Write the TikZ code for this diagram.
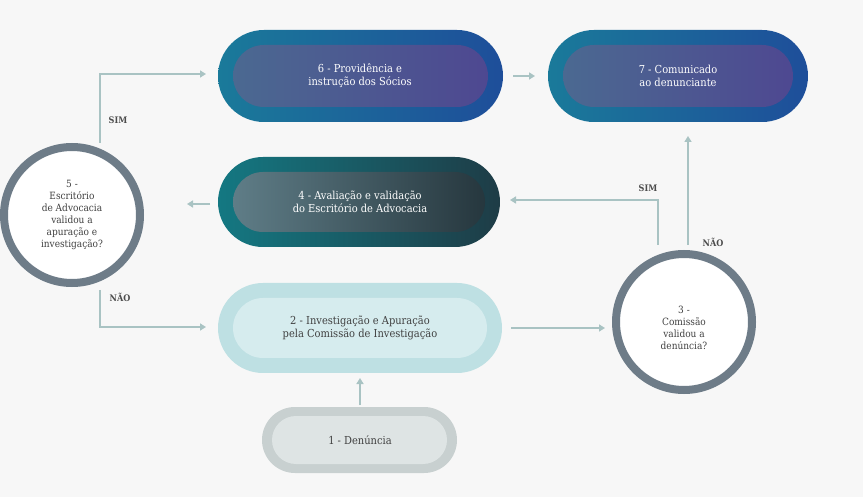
\documentclass[tikz,border=0pt]{standalone}
\usepackage{fontspec}
\setmainfont{DejaVu Serif Condensed}
\usetikzlibrary{arrows.meta}
\definecolor{arr}{HTML}{A9C3C3}
\definecolor{ring}{HTML}{6E7C88}
\definecolor{obL}{HTML}{1A7A9A}
\definecolor{obR}{HTML}{1E4E9A}
\definecolor{ibL}{HTML}{4B6991}
\definecolor{ibR}{HTML}{4E4891}
\definecolor{otL}{HTML}{147882}
\definecolor{otR}{HTML}{1E3C46}
\definecolor{itL}{HTML}{5F7D87}
\definecolor{itR}{HTML}{26373E}
\definecolor{cyO}{HTML}{BEE0E3}
\definecolor{cyI}{HTML}{D6ECEE}
\definecolor{grO}{HTML}{C8D0D0}
\definecolor{grI}{HTML}{DEE4E4}
\begin{document}
\begin{tikzpicture}[x=1pt,y=-1pt,
  lbl/.style={align=center,font=\fontsize{11}{13}\selectfont,text=white},
  dlbl/.style={align=center,font=\fontsize{11}{13}\selectfont,text=black!75},
  con/.style={draw=arr,line width=1.6pt,-{Triangle[length=6pt,width=7pt]}},
  yn/.style={font=\fontsize{9}{10}\selectfont\bfseries,text=black!70}]
\useasboundingbox[fill=white] (0,0) rectangle (863,497);
\fill[black!3] (0,0) rectangle (863,497);
% node 6
\shade[left color=obL,right color=obR,rounded corners=46pt] (218,30) rectangle (503,122);
\shade[left color=ibL,right color=ibR,rounded corners=31pt] (233,45) rectangle (488,107);
\node[lbl] (n6) at (360,76) {6 - Providência e\\instrução dos Sócios};
% node 7
\shade[left color=obL,right color=obR,rounded corners=46pt] (548,30) rectangle (808,122);
\shade[left color=ibL,right color=ibR,rounded corners=31pt] (563,45) rectangle (793,107);
\node[lbl] (n7) at (678,76) {7 - Comunicado\\ao denunciante};
% node 4
\shade[left color=otL,right color=otR,rounded corners=45pt] (218,157) rectangle (500,247);
\shade[left color=itL,right color=itR,rounded corners=30pt] (233,172) rectangle (485,232);
\node[lbl] (n4) at (360,202) {4 - Avaliação e validação\\do Escritório de Advocacia};
% node 2
\fill[cyO,rounded corners=45pt] (218,283) rectangle (502,373);
\fill[cyI,rounded corners=30pt] (233,298) rectangle (487,358);
\node[dlbl] (n2) at (360,328) {2 - Investigação e Apuração\\pela Comissão de Investigação};
% node 1
\fill[grO,rounded corners=33pt] (262,407) rectangle (457,473);
\fill[grI,rounded corners=24pt] (272,416) rectangle (447,464);
\node[dlbl] (n1) at (360,440) {1 - Denúncia};
% circles
\draw[ring,line width=8pt,fill=white] (72,215) circle (68);
\node[dlbl,font=\fontsize{10}{12}\selectfont] (n5) at (72,215) {5 -\\Escritório\\de Advocacia\\validou a\\apuração e\\investigação?};
\draw[ring,line width=8pt,fill=white] (684,322) circle (68);
\node[dlbl,font=\fontsize{10}{12}\selectfont] (n3) at (684,328) {3 -\\Comissão\\validou a\\denúncia?};
% connectors
\coordinate (a1) at (360,405); \coordinate (a2) at (360,378);
\draw[con] (a1) -- (a2);
\coordinate (b1) at (511,328); \coordinate (b2) at (605,328);
\draw[con] (b1) -- (b2);
\coordinate (c1) at (658,245); \coordinate (c2) at (510,200);
\draw[con] (c1) |- (c2);
\coordinate (d1) at (688,245); \coordinate (d2) at (688,136);
\draw[con] (d1) -- (d2);
\coordinate (e1) at (210,204); \coordinate (e2) at (187,204);
\draw[con] (e1) -- (e2);
\coordinate (f1) at (100,143); \coordinate (f2) at (206,74);
\draw[con] (f1) |- (f2);
\coordinate (g1) at (100,290); \coordinate (g2) at (206,327);
\draw[con] (g1) |- (g2);
\coordinate (h1) at (513,76); \coordinate (h2) at (535,76);
\draw[con] (h1) -- (h2);
\node[yn] (s1) at (118,120) {SIM};
\node[yn] (s2) at (120,297) {NÃO};
\node[yn] (s3) at (648,188) {SIM};
\node[yn] (s4) at (713,242) {NÃO};
\end{tikzpicture}
\end{document}
